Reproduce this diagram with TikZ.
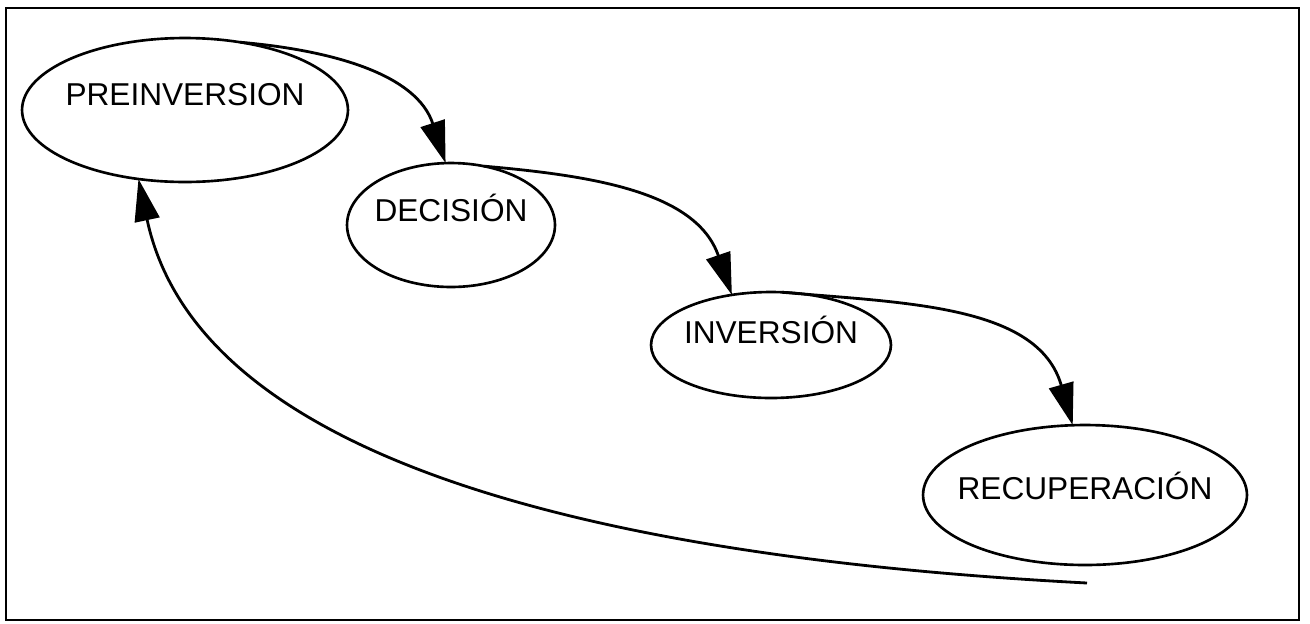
\documentclass[tikz,border=0pt]{standalone}
\usepackage{fontspec}
\setmainfont{Liberation Sans}
\usetikzlibrary{shapes.geometric, arrows.meta}
\tikzstyle{phase} = [ellipse, draw=black, line width=1.5pt, inner sep=0pt, outer sep=0pt, text height=0.7em, font=\fontsize{18}{20}\selectfont]
\tikzstyle{arrow} = [line width=1.6pt, -{Triangle[length=0.84cm, width=0.5cm]}]

\begin{document}
\begin{tikzpicture}[x=0.02cm, y=0.02cm]
\useasboundingbox (0,0) rectangle (1310,-623);
\draw [line width=1.2pt] (6,-8) rectangle (1299,-620);
\node (pre) [phase, minimum width=6.52cm, minimum height=2.88cm, text depth=0.44cm] at (185,-110) {\makebox[0pt]{PREINVERSION}};
\node (dec) [phase, minimum width=4.16cm, minimum height=2.48cm, text depth=0.4cm] at (451,-225) {\makebox[0pt]{DECISIÓN}};
\node (inv) [phase, minimum width=4.8cm, minimum height=2.12cm, text depth=0.32cm] at (771,-345) {\makebox[0pt]{INVERSIÓN}};
\node (rec) [phase, minimum width=6.48cm, minimum height=2.8cm, text depth=0.08cm] at (1085,-495) {\makebox[0pt]{RECUPERACIÓN}};
\coordinate (back) at (1087,-583);
\draw [arrow] (pre.51) to[out=-5, in=108] (dec.95);
\draw [arrow] (dec.61) to[out=-5, in=109] (inv.128);
\draw [arrow] (inv.78) to[out=-5, in=106] (rec.100);
\draw [arrow] (back) to[out=177, in=-78, out distance=9cm, in distance=6cm] (pre.236);
\end{tikzpicture}
\end{document}
